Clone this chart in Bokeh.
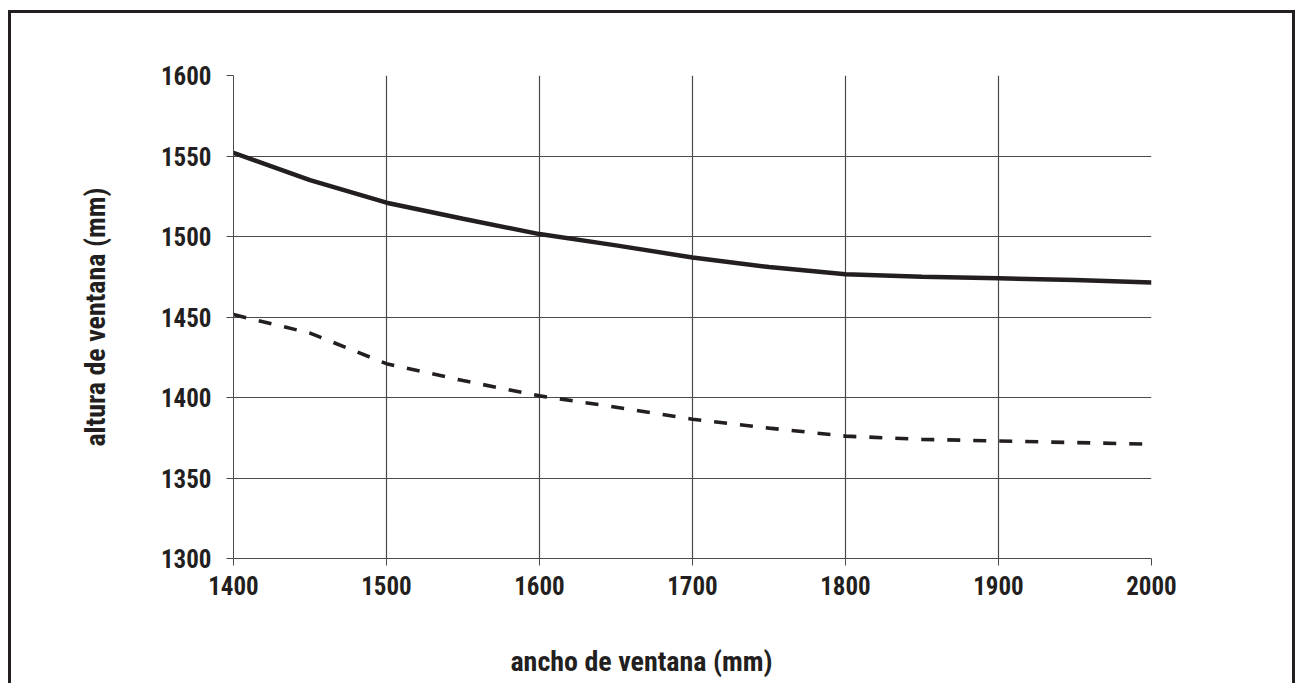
from bokeh.plotting import figure
from bokeh.models import FixedTicker, Label
from bokeh.embed import file_html
from bokeh.resources import INLINE

# Window width (mm) and the two window-height curves (mm)
ancho = [1400, 1450, 1500, 1550, 1600, 1650, 1700, 1750, 1800, 1850, 1900, 1950, 2000]
altura_max = [1552, 1535, 1521, 1511, 1501.5, 1494.5, 1487, 1481, 1476.5, 1475, 1474, 1473, 1471.5]
altura_min = [1451.5, 1440, 1421, 1410.5, 1401, 1394, 1386.5, 1381, 1376, 1374, 1373, 1372, 1371]

x_ticks = [1400, 1500, 1600, 1700, 1800, 1900, 2000]
y_ticks = [1300, 1350, 1400, 1450, 1500, 1550, 1600]

FONT = "Roboto Condensed"
INK = "#231f20"
GRID = "#4a4a4a"

p = figure(
    width=1287, height=673,
    x_range=(1400, 2000), y_range=(1300, 1600),
    output_backend="svg", toolbar_location=None,
    min_border_left=222, min_border_right=147,
    min_border_top=62, min_border_bottom=128,
)
p.outline_line_color = None
# thin frame around the whole chart (open at the bottom edge of the page)
p.styles = {
    "margin-left": "8px",
    "margin-top": "10px",
    "border-top": f"3px solid {INK}",
    "border-left": f"3px solid {INK}",
    "border-right": f"3px solid {INK}",
}

for ax, ticks in ((p.xaxis, x_ticks), (p.yaxis, y_ticks)):
    ax.ticker = FixedTicker(ticks=ticks)
    ax.axis_line_color = GRID
    ax.major_tick_line_color = GRID
    ax.major_tick_out = 7
    ax.major_tick_in = 0
    ax.minor_tick_line_color = None
    ax.major_label_text_font = FONT
    ax.major_label_text_font_style = "bold"
    ax.major_label_text_font_size = "25px"
    ax.major_label_text_color = INK

p.xaxis.major_label_standoff = 10
p.yaxis.major_label_standoff = 15

p.yaxis.axis_label = "altura de ventana (mm)"
p.yaxis.axis_label_text_font = FONT
p.yaxis.axis_label_text_font_style = "bold"
p.yaxis.axis_label_text_font_size = "28px"
p.yaxis.axis_label_text_color = INK
p.yaxis.axis_label_standoff = 46

# x-axis title, placed in the panel under the axis
p.add_layout(Label(
    x=408, y=-31, x_units="screen", y_units="screen",
    text="ancho de ventana (mm)", text_font=FONT, text_font_style="bold",
    text_font_size="28px", text_color=INK,
    text_align="center", text_baseline="middle",
), "below")

p.xgrid.ticker = FixedTicker(ticks=x_ticks)
p.ygrid.ticker = FixedTicker(ticks=y_ticks)
for g in (p.xgrid, p.ygrid):
    g.grid_line_color = GRID
    g.grid_line_width = 1.2

# Curves
p.line(ancho, altura_max, line_color=INK, line_width=4.5)
p.line(ancho, altura_min, line_color=INK, line_width=3.6, line_dash="13 13")

open("out.html", "w").write(file_html(p, INLINE))
